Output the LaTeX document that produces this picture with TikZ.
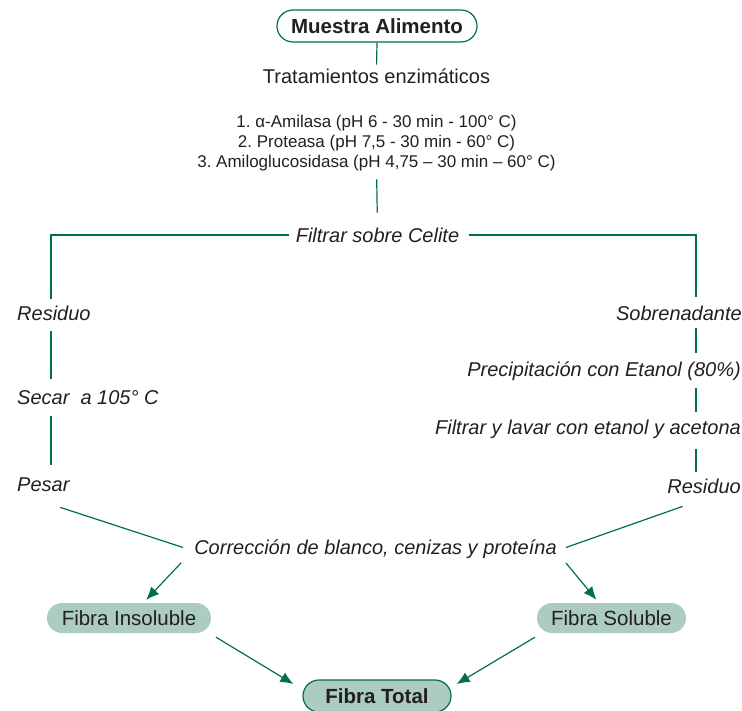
\documentclass[tikz,border=0pt]{standalone}
\usepackage{fontspec}
\setmainfont{Liberation Sans}
\usetikzlibrary{arrows.meta,shapes.misc}
\definecolor{fgreen}{RGB}{0,112,74}
\definecolor{ffill}{RGB}{171,204,191}
\definecolor{ftext}{RGB}{35,31,32}
\frenchspacing
\begin{document}
\begin{tikzpicture}[x=1pt,y=-1pt,
  lbl/.style={text=ftext,inner sep=0pt,text height=14.4pt,text depth=0pt,
    font=\fontsize{20}{24}\selectfont},
  itl/.style={lbl,font=\fontsize{20}{24}\selectfont\itshape},
  enz/.style={text=ftext,inner sep=0pt,text height=12.2pt,text depth=0pt,
    font=\fontsize{17}{20}\selectfont},
  conn/.style={draw=fgreen,line width=1.2pt},
  arr/.style={conn,-{Latex[length=13pt,width=11pt]}},
  pill/.style={rounded rectangle,inner sep=0pt,text=ftext,text height=14.4pt,
    text depth=0pt,font=\fontsize{20.5}{24}\selectfont},
  boldpill/.style={pill,draw=fgreen,line width=1.2pt,
    font=\fontsize{20.5}{24}\selectfont\bfseries},
]
\useasboundingbox (0,0) rectangle (742,710);

% nodes
\node[boldpill,fill=white,minimum width=200pt,minimum height=32pt] (muestra) at (377,26) {Muestra Alimento};
\node[lbl] (trat) at (376.5,76) {Tratamientos enzimáticos};
\node[enz] (e1) at (376.5,121) {1. α-Amilasa (pH 6 - 30 min - 100° C)};
\node[enz] (e2) at (376.5,141) {2. Proteasa (pH 7,5 - 30 min - 60° C)};
\node[enz] (e3) at (376.5,161) {3. Amiloglucosidasa (pH 4,75 – 30 min – 60° C)};
\node[itl] (filt) at (377.5,235) {Filtrar sobre Celite};

\node[itl,anchor=west] (res1) at (17,313.5) {Residuo};
\node[itl,anchor=west] (secar) at (17,397) {Secar\ \ a 105° C};
\node[itl,anchor=west] (pesar) at (17,484) {Pesar};

\node[itl,anchor=east] (sob) at (742,313) {Sobrenadante};
\node[itl,anchor=east] (prec) at (741,369) {Precipitación con Etanol (80\%)};
\node[itl,anchor=east] (lav) at (741,427) {Filtrar y lavar con etanol y acetona};
\node[itl,anchor=east] (res2) at (741,486) {Residuo};

\node[itl] (corr) at (375.5,547.5) {Corrección de blanco, cenizas y proteína};

\node[pill,fill=ffill,minimum width=164pt,minimum height=30pt] (insol) at (129,618) {Fibra Insoluble};
\node[pill,fill=ffill,minimum width=149pt,minimum height=30pt] (sol) at (611.5,618) {Fibra Soluble};
\node[boldpill,fill=ffill,minimum width=148pt,minimum height=32pt] (total) at (377,696) {Fibra Total};

\coordinate (lc) at (51,299);
\coordinate (rc) at (696,297);

% connectors
\draw[conn,shorten >=4pt] (muestra.south) -- (trat.north);
\draw[conn,shorten <=12pt,shorten >=15pt] (e3.south) -- (filt.north);
\draw[conn,shorten <=7pt] (filt.west) -| (lc);
\draw[conn,shorten <=10pt] (filt.east) -| (rc);

\draw[conn,shorten <=10pt,shorten >=11pt] (lc |- res1.south) -- (lc |- secar.north);
\draw[conn,shorten <=12pt,shorten >=12pt] (lc |- secar.south) -- (lc |- pesar.north);

\draw[conn,shorten <=8pt,shorten >=9pt] (rc |- sob.south) -- (rc |- prec.north);
\draw[conn,shorten <=12pt,shorten >=8pt] (rc |- prec.south) -- (rc |- lav.north);
\draw[conn,shorten <=15pt,shorten >=7pt] (rc |- lav.south) -- (rc |- res2.north);

\draw[conn] ([shift={(17,16)}]pesar.south) -- ([xshift=-11pt]corr.west);
\draw[conn] ([xshift=9pt]corr.east) -- ([shift={(-21.5,13)}]res2.south);

\draw[arr,shorten >=4pt] ([shift={(-13,8)}]corr.south west) -- (insol);
\draw[arr,shorten >=4pt] ([shift={(9,8)}]corr.south east) -- (sol);

\draw[arr] ([shift={(87,4)}]insol.south) -- ([shift={(-9,-12)}]total.west);
\draw[arr] ([shift={(-76.5,4)}]sol.south) -- ([shift={(5,-12)}]total.east);
\end{tikzpicture}
\end{document}
